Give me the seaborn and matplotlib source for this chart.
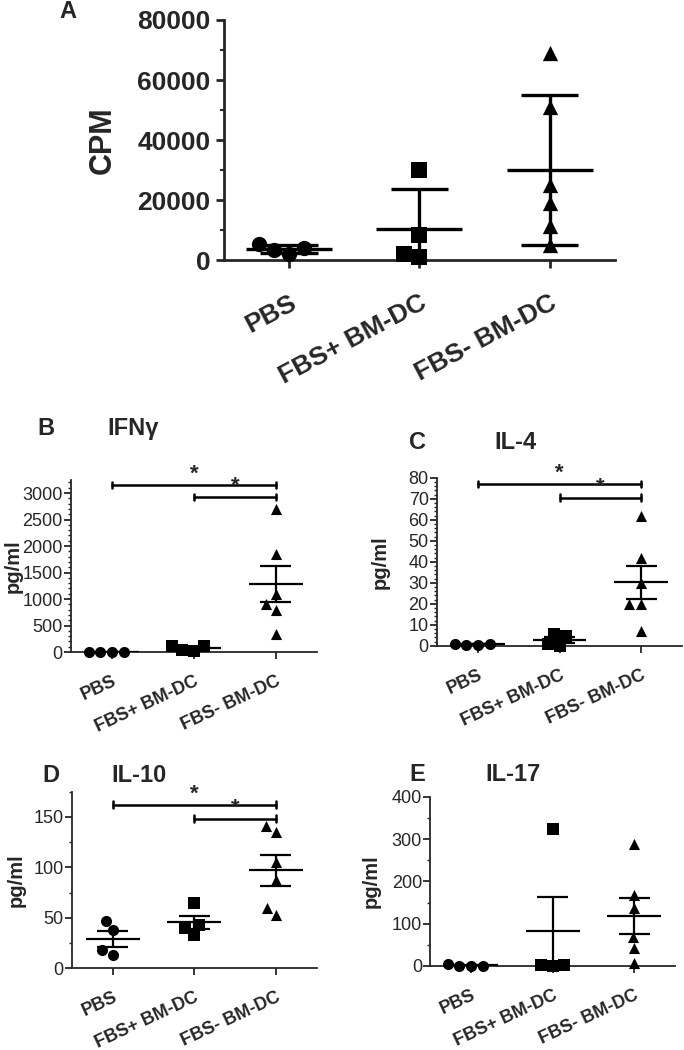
import numpy as np
import pandas as pd
import matplotlib
matplotlib.use("Agg")
import matplotlib.pyplot as plt
from matplotlib.ticker import MultipleLocator
import seaborn as sns

groups = ["PBS", "FBS+ BM-DC", "FBS- BM-DC"]
markers = ["o", "s", "^"]

# A - proliferation (CPM)
cpm_pbs = [3500, 2000, 5500, 4000]
cpm_fbs_pos = [30000, 8500, 1000, 2000]
cpm_fbs_neg = [69000, 51000, 25000, 19000, 11500, 5000]

# B-E cytokines (pg/ml)
ifng_pbs = [0, 0, 0, 0]
ifng_fbs_pos = [110, 120, 30, 20]
ifng_fbs_neg = [2700, 1850, 1100, 900, 800, 350]

il4_pbs = [1, 0.5, 1, 0.5]
il4_fbs_pos = [4.5, 5.5, 0, 1]
il4_fbs_neg = [62, 42, 30, 20, 20, 7]

il10_pbs = [47, 38, 13, 18]
il10_fbs_pos = [65, 43, 40, 33]
il10_fbs_neg = [141, 135, 105, 87, 53, 60]

il17_pbs = [0, 0, 5, 0]
il17_fbs_pos = [325, 3, 0, 3]
il17_fbs_neg = [288, 167, 137, 68, 42, 8]

# significance brackets: (from group, to group, height)
ifng_sig = [(0, 2, 3150), (1, 2, 2930)]
il4_sig = [(0, 2, 77), (1, 2, 70.5)]
il10_sig = [(0, 2, 162), (1, 2, 148)]


def long_df(*series):
    rows = []
    for g, vals in zip(groups, series):
        for v in vals:
            rows.append({"group": g, "value": v})
    return pd.DataFrame(rows)


sns.set_style("ticks")
plt.rcParams["font.family"] = ["Liberation Sans", "DejaVu Sans"]

fig = plt.figure(figsize=(6.84, 10.5), dpi=100)


def draw_panel(ax, df, err, msize, lw, mean_w, cap_w):
    for g, m in zip(groups, markers):
        sub = df[df["group"] == g]
        sns.swarmplot(data=sub, x="group", y="value", order=groups, marker=m,
                      color="black", size=msize, ax=ax, linewidth=0)
    for c in ax.collections:
        c.set_clip_on(False)
    for i, g in enumerate(groups):
        v = df.loc[df["group"] == g, "value"].to_numpy(dtype=float)
        mean = v.mean()
        sd = v.std(ddof=1)
        e = sd if err == "sd" else sd / np.sqrt(len(v))
        lo = max(mean - e, 0)
        ax.hlines(mean, i - mean_w, i + mean_w, color="black", lw=lw, zorder=3)
        ax.vlines(i, lo, mean + e, color="black", lw=lw, zorder=3)
        ax.hlines(mean + e, i - cap_w, i + cap_w, color="black", lw=lw, zorder=3)
        if mean - e > 0:
            ax.hlines(mean - e, i - cap_w, i + cap_w, color="black", lw=lw, zorder=3)
    ax.set_xlim(-0.5, 2.5)
    sns.despine(ax=ax)
    ax.set_xlabel("")


def brackets(ax, sig, tick):
    for a, b, h in sig:
        ax.plot([a, b], [h, h], color="black", lw=1.8, clip_on=False)
        ax.plot([a, a], [h - tick, h + tick], color="black", lw=1.8, clip_on=False)
        ax.plot([b, b], [h - tick, h + tick], color="black", lw=1.8, clip_on=False)
        ax.text((a + b) / 2, h, "*", ha="center", va="bottom", fontsize=16,
                fontweight="bold")


# Panel A
axA = fig.add_axes([0.327, 0.752, 0.572, 0.229])
draw_panel(axA, long_df(cpm_pbs, cpm_fbs_pos, cpm_fbs_neg), "sd", 11, 2.4, 0.33, 0.22)
axA.set_ylim(0, 80000)
axA.yaxis.set_major_locator(MultipleLocator(20000))
axA.yaxis.set_minor_locator(MultipleLocator(10000))
axA.set_ylabel("CPM", fontsize=22, fontweight="bold")
axA.yaxis.set_label_coords(-0.27, 0.5)
for s in axA.spines.values():
    s.set_linewidth(2)
axA.tick_params(width=2, length=6, labelsize=19)
axA.tick_params(which="minor", width=1.5, length=3)
for t in axA.get_yticklabels():
    t.set_fontweight("bold")
axA.set_xticks(range(3))
axA.set_xticklabels(groups, rotation=28, ha="right", rotation_mode="anchor",
                    fontsize=19, fontweight="bold")
axA.tick_params(axis="x", pad=16)
fig.text(0.099, 0.989, "A", fontsize=17, fontweight="bold", va="center", ha="center")

panels = [
    ([0.104, 0.379, 0.359, 0.164], (ifng_pbs, ifng_fbs_pos, ifng_fbs_neg), 3250, 500, 100,
     ifng_sig, 60, "B", "IFNγ", (0.067, 0.592), (0.194, 0.592), 0.033),
    ([0.639, 0.385, 0.358, 0.160], (il4_pbs, il4_fbs_pos, il4_fbs_neg), 80, 10, 2,
     il4_sig, 1.6, "C", "IL-4", (0.611, 0.579), (0.753, 0.579), 0.570),
    ([0.105, 0.078, 0.358, 0.168], (il10_pbs, il10_fbs_pos, il10_fbs_neg), 175, 50, 25,
     il10_sig, 3.5, "D", "IL-10", (0.075, 0.261), (0.203, 0.261), 0.037),
    ([0.629, 0.080, 0.358, 0.161], (il17_pbs, il17_fbs_pos, il17_fbs_neg), 400, 100, 50,
     None, 0, "E", "IL-17", (0.61, 0.262), (0.75, 0.262), 0.556),
]

for rect, series, top, major, minor, sig, tick, letter, title, lpos, tpos, ylx in panels:
    ax = fig.add_axes(rect)
    draw_panel(ax, long_df(*series), "sem", 8, 1.6, 0.33, 0.19)
    ax.set_ylim(0, top)
    ax.yaxis.set_major_locator(MultipleLocator(major))
    ax.yaxis.set_minor_locator(MultipleLocator(minor))
    for s in ax.spines.values():
        s.set_linewidth(1.3)
    ax.tick_params(width=1.3, length=5, labelsize=13, pad=1)
    ax.tick_params(which="minor", width=1, length=2.5)
    ax.set_xticks(range(3))
    ax.set_xticklabels(groups, rotation=25, ha="right", rotation_mode="anchor",
                       fontsize=13, fontweight="bold")
    ax.tick_params(axis="x", pad=10)
    ax.set_ylabel("pg/ml", fontsize=14.5, fontweight="bold")
    ax.yaxis.set_label_coords((ylx - rect[0]) / rect[2], 0.5)
    if sig:
        brackets(ax, sig, tick)
    fig.text(lpos[0], lpos[1], letter, fontsize=17, fontweight="bold", va="center", ha="center")
    fig.text(tpos[0], tpos[1], title, fontsize=17, fontweight="bold", va="center", ha="center")

fig.savefig("out.png", dpi=100)
